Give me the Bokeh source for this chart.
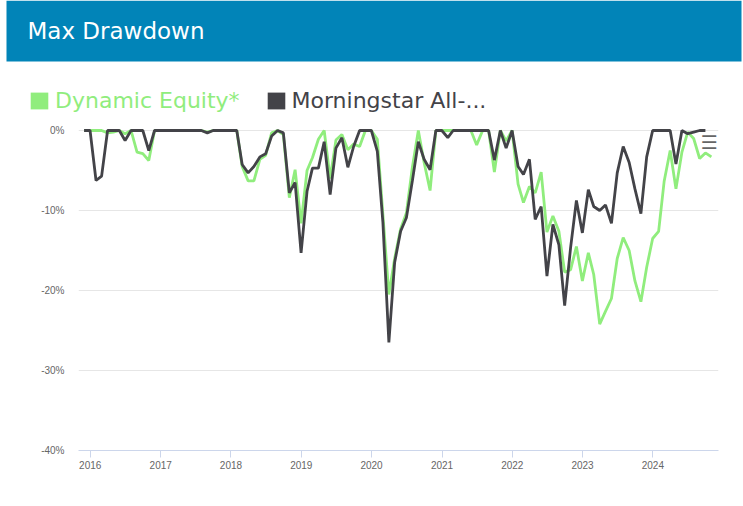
import pandas as pd
from bokeh.plotting import figure
from bokeh.models import (Range1d, FixedTicker, PrintfTickFormatter, DatetimeTickFormatter,
                          Legend, LegendItem, Label, ColumnDataSource, BoxAnnotation)
from bokeh.layouts import column
from bokeh.embed import file_html
from bokeh.resources import INLINE
from bokeh.core.properties import value

# ---------------- data (month-end drawdowns, %) ----------------
dates_green = pd.date_range("2015-11-30", "2024-10-31", freq="ME")
dates_black = pd.date_range("2015-11-30", "2024-09-30", freq="ME")

dynamic_equity = [
    0, 0,                                                                    # 2015 Nov-Dec
    0, 0, -0.3, -0.2, 0, -0.4, 0, -2.7, -2.9, -3.75, 0, 0,                    # 2016
    0, 0, 0, 0, 0, 0, 0, -0.2, 0, 0, 0, 0,                                    # 2017
    0, -4.5, -6.3, -6.3, -3.6, -3.1, -0.3, 0, -0.5, -8.4, -4.9, -11.6,        # 2018
    -5.0, -3.4, -1.1, 0, -6.0, -1.2, -0.5, -2.4, -1.7, -2.0, 0, 0,            # 2019
    -1.1, -10.5, -20.5, -16.0, -12.3, -10.3, -4.6, 0, -4.0, -7.5, 0, 0,       # 2020
    0, 0, 0, 0, 0, -1.8, 0, 0, -5.2, 0, -1.3, 0,                              # 2021
    -6.7, -9.0, -7.0, -7.8, -5.2, -12.7, -10.7, -12.6, -17.7, -17.4, -14.5, -18.8,   # 2022
    -15.3, -18.0, -24.2, -22.6, -21.0, -16.0, -13.4, -15.0, -18.8, -21.4, -17.1, -13.5,  # 2023
    -12.6, -6.3, -2.5, -7.3, -2.7, -0.2, -1.0, -3.5, -2.8, -3.3,             # 2024 Jan-Oct
]

morningstar = [
    0, 0,                                                                    # 2015 Nov-Dec
    -6.25, -5.7, 0, 0, 0, -1.25, 0, 0, 0, -2.5, 0, 0,                         # 2016
    0, 0, 0, 0, 0, 0, 0, -0.3, 0, 0, 0, 0,                                    # 2017
    0, -4.25, -5.3, -4.5, -3.3, -2.9, -0.7, 0, -0.3, -7.8, -6.5, -15.3,       # 2018
    -7.6, -4.7, -4.7, -1.4, -8.0, -2.2, -0.9, -4.6, -2.0, 0, 0, 0,            # 2019
    -2.6, -11.5, -26.5, -16.5, -12.6, -10.9, -6.3, -1.4, -3.6, -4.9, 0, 0,    # 2020
    -0.9, 0, 0, 0, 0, 0, 0, 0, -3.7, 0, -2.2, 0,                              # 2021
    -4.5, -5.5, -3.6, -11.1, -9.5, -18.2, -11.75, -14.3, -21.9, -14.6, -8.75, -12.8,  # 2022
    -7.4, -9.5, -10.0, -9.3, -11.6, -5.3, -2.0, -4.0, -7.3, -10.4, -3.3, 0,   # 2023
    0, 0, 0, -4.2, 0, -0.4, -0.2, 0, 0,                                       # 2024 Jan-Sep
]

series_names = ["Dynamic Equity*", "Morningstar All-..."]
tick_years = [2016, 2017, 2018, 2019, 2020, 2021, 2022, 2023, 2024]
y_ticks = [-40, -30, -20, -10, 0]
chart_title = "Max Drawdown"

# ---------------- styling ----------------
BLUE = "#0184b8"
GREEN = "#90ed7d"
DARK = "#434348"
W = 743
HEAD_H = 118
NAN = float("nan")

# ---------- header: blue title band + legend row ----------
header = figure(width=W, height=HEAD_H, x_range=Range1d(0, W), y_range=Range1d(0, HEAD_H),
                output_backend="svg", toolbar_location=None, min_border=0,
                x_axis_location=None, y_axis_location=None,
                background_fill_color="white", border_fill_color="white",
                outline_line_color=None)
header.frame_align = False
header.grid.visible = False
header.add_layout(BoxAnnotation(left=6, right=741, bottom=HEAD_H - 61, top=HEAD_H,
                                fill_color=BLUE, fill_alpha=1, line_color=None))
header.add_layout(Label(x=27, y=HEAD_H - 30, text=chart_title, text_color="white",
                        text_font="DejaVu Sans", text_font_size="23px",
                        text_baseline="middle", text_align="left"))

# legend swatches: square patches with no drawable position (NaN), shown only in the legend
sw_g = header.quad(left=[NAN], right=[NAN], top=[NAN], bottom=[NAN],
                   fill_color=GREEN, line_color=None)
sw_b = header.quad(left=[NAN], right=[NAN], top=[NAN], bottom=[NAN],
                   fill_color=DARK, line_color=None)


def make_legend(label, rend, color, loc):
    return Legend(items=[LegendItem(label=value(label), renderers=[rend])],
                  location=loc, orientation="horizontal",
                  glyph_width=22, glyph_height=21, label_standoff=5, label_height=21,
                  label_text_font="DejaVu Sans", label_text_font_size="22px",
                  label_text_color=color, border_line_color=None,
                  background_fill_alpha=0, padding=0, margin=0, spacing=0)


header.add_layout(make_legend(series_names[0], sw_g, GREEN, (28, HEAD_H - 112.5)))
header.add_layout(make_legend(series_names[1], sw_b, DARK, (264.5, HEAD_H - 112.5)))

# ---------- main chart ----------
src_g = ColumnDataSource(dict(date=dates_green, dd=dynamic_equity))
src_b = ColumnDataSource(dict(date=dates_black, dd=morningstar))

p = figure(width=W, height=386, x_axis_type="datetime",
           x_range=Range1d(pd.Timestamp("2015-11-01"), pd.Timestamp("2024-12-07")),
           y_range=Range1d(-40, 0.25),
           output_backend="svg", toolbar_location=None,
           min_border_left=78, min_border_right=25, min_border_top=10, min_border_bottom=54,
           outline_line_color=None, background_fill_color="white", border_fill_color="white")
p.frame_align = False

p.line(x="date", y="dd", source=src_g, line_color=GREEN, line_width=2.8)
p.line(x="date", y="dd", source=src_b, line_color=DARK, line_width=2.8)

xa = p.xaxis[0]
xa.ticker = FixedTicker(ticks=[pd.Timestamp(f"{y}-01-01").value / 1e6 for y in tick_years])
xa.formatter = DatetimeTickFormatter(years="%Y", months="%Y", days="%Y", hours="%Y",
                                     minutes="%Y", seconds="%Y", milliseconds="%Y",
                                     microseconds="%Y", hourmin="%Y", minsec="%Y")
xa.axis_line_color = "#ccd6eb"
xa.major_tick_line_color = "#ccd6eb"
xa.major_tick_out = 7
xa.major_tick_in = 0
xa.minor_tick_line_color = None
xa.major_label_standoff = 3
xa.major_label_text_color = "#666666"
xa.major_label_text_font = "Liberation Sans"
xa.major_label_text_font_size = "10px"

ya = p.yaxis[0]
ya.ticker = FixedTicker(ticks=y_ticks)
ya.formatter = PrintfTickFormatter(format="%d%%")
ya.axis_line_color = None
ya.major_tick_line_color = None
ya.minor_tick_line_color = None
ya.major_tick_out = 0
ya.major_tick_in = 0
ya.major_label_standoff = 14
ya.major_label_text_color = "#666666"
ya.major_label_text_font = "Liberation Sans"
ya.major_label_text_font_size = "10px"

p.xgrid.grid_line_color = None
p.ygrid.grid_line_color = "#e6e6e6"
p.ygrid.grid_line_width = 1

# context-menu icon
p.add_layout(Label(x=622, y=320, x_units="screen", y_units="screen", text="☰",
                   text_color="#666666", text_font="DejaVu Sans", text_font_size="19px",
                   text_baseline="top", text_align="left"))

layout = column(header, p, spacing=0)
open("out.html", "w").write(file_html(layout, INLINE))
